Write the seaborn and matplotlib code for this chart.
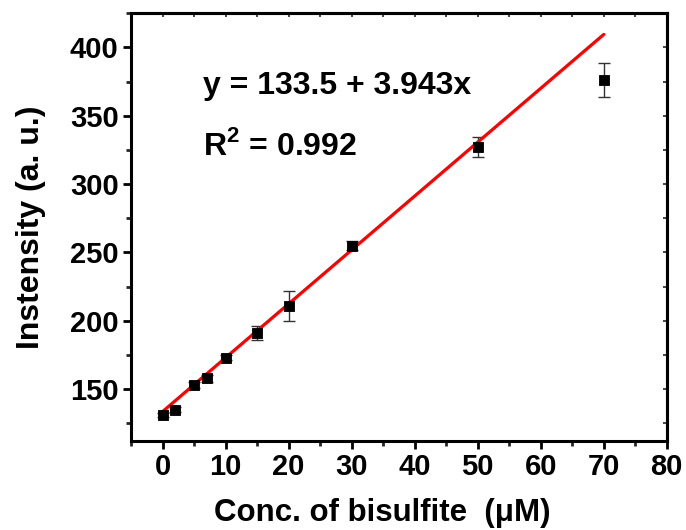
import numpy as np
import pandas as pd
import seaborn as sns
import matplotlib.pyplot as plt

conc = [0, 2, 5, 7, 10, 15, 20, 30, 50, 70]
intensity = [131, 135, 153, 158, 173, 191, 211, 255, 327, 376]
err = [1.5, 1.5, 2, 2.5, 2, 5, 11, 3, 7.5, 12.5]
fit_x = [0, 70]
intercept, slope = 133.5, 3.943
eq_text = 'y = 133.5 + 3.943x'
r2_text = r'R$^\mathbf{2}$ = 0.992'

df = pd.DataFrame({'conc': conc, 'intensity': intensity, 'err': err})
fit = pd.DataFrame({'x': fit_x, 'y': [intercept + slope * v for v in fit_x]})

sns.set_theme(style='ticks')
plt.rcParams['font.family'] = ['Liberation Sans', 'DejaVu Sans']
plt.rcParams['font.weight'] = 'bold'
plt.rcParams['text.color'] = 'black'
plt.rcParams['axes.labelcolor'] = 'black'
plt.rcParams['mathtext.fontset'] = 'custom'
plt.rcParams['mathtext.bf'] = 'Liberation Sans:bold'
plt.rcParams['mathtext.rm'] = 'Liberation Sans:bold'

fig = plt.figure(figsize=(6.86, 5.30), dpi=100)
ax = fig.add_axes([0.191, 0.168, 0.781, 0.807])

ax.errorbar(df['conc'], df['intensity'], yerr=df['err'], fmt='none',
            ecolor='#333333', elinewidth=1, capsize=4, capthick=1, zorder=2)
sns.lineplot(data=fit, x='x', y='y', color='red', linewidth=2.3, ax=ax, zorder=3)
sns.scatterplot(data=df, x='conc', y='intensity', marker='s', s=60,
                color='black', edgecolor='black', ax=ax, zorder=4)

ax.set_xlim(-5, 80)
ax.set_ylim(112, 425)
ax.set_xticks(np.arange(0, 81, 10))
ax.set_xticks(np.arange(-5, 81, 5), minor=True)
ax.set_yticks(np.arange(150, 401, 50))
ax.set_yticks(np.arange(125, 426, 25), minor=True)

for s in ax.spines.values():
    s.set_linewidth(2.2)
    s.set_color('black')

ax.tick_params(axis='both', which='major', direction='out', length=6, width=2,
               labelsize=21, pad=3, colors='black')
ax.tick_params(axis='both', which='minor', direction='out', length=3.5, width=2)
ax.tick_params(which='both', top=False, right=False)
for lab in ax.get_xticklabels() + ax.get_yticklabels():
    lab.set_fontweight('bold')

# mirrored ticks on top / right
sec_x = ax.secondary_xaxis('top')
sec_x.set_xticks(np.arange(-5, 81, 5))
sec_x.tick_params(direction='in', length=3, width=1.2, labeltop=False)
sec_x.spines['top'].set_linewidth(2.2)
sec_y = ax.secondary_yaxis('right')
sec_y.set_yticks(np.arange(125, 426, 25))
sec_y.tick_params(direction='in', length=3, width=1.2, labelright=False)
sec_y.spines['right'].set_linewidth(2.2)

ax.set_xlabel('Conc. of bisulfite  (\u03bcM)', fontsize=22.5, fontweight='bold', labelpad=12)
ax.xaxis.label.set_x(0.468)
ax.set_ylabel('Instensity (a. u.)', fontsize=23, fontweight='bold', labelpad=17)

ax.text(6.4, 366, eq_text, fontsize=23, fontweight='bold', ha='left', va='baseline')
ax.text(6.4, 321, r2_text, fontsize=23, fontweight='bold', ha='left', va='baseline')

fig.savefig('out.png', dpi=100)
